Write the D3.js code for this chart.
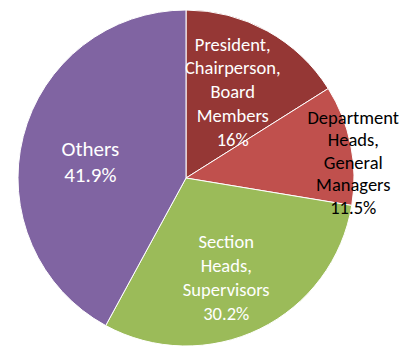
<!DOCTYPE html>
<html>
<head>
<meta charset="utf-8">
<script src="https://cdn.jsdelivr.net/npm/d3@7"></script>
<style>
  html, body { margin: 0; padding: 0; background: #fff; }
  svg { display: block; }
</style>
</head>
<body>
<svg id="chart" width="399" height="348"></svg>
<script>
const categories = [
  ["President,", "Chairperson,", "Board", "Members"],
  ["Department", "Heads,", "General", "Managers"],
  ["Section", "Heads,", "Supervisors"],
  ["Others"]
];
const values = [16, 11.5, 30.2, 41.9];
const percentLabels = ["16%", "11.5%", "30.2%", "41.9%"];
const colors = ["#953735", "#C0504D", "#9BBB59", "#8064A2"];
const labelColors = ["#ffffff", "#000000", "#ffffff", "#ffffff"];

const svg = d3.select("#chart");
const cx = 186, cy = 178, r = 168;
const g = svg.append("g").attr("transform", `translate(${cx},${cy})`);

const pie = d3.pie().sort(null).value(d => d);
const arcs = pie(values);
const arc = d3.arc().innerRadius(0).outerRadius(r);

g.selectAll("path.slice")
  .data(arcs)
  .enter().append("path")
  .attr("class", "slice")
  .attr("d", arc)
  .attr("fill", (d, i) => colors[i])
  .attr("stroke", "#ffffff")
  .attr("stroke-width", 1);

const labelArc = d3.arc().innerRadius(r * 0.6).outerRadius(r * 0.6);
const fontFamily = "Carlito, Calibri, Lato, 'Open Sans', sans-serif";

arcs.forEach((d, i) => {
  let [x, y] = labelArc.centroid(d);
  let size = 18.5, lineH = 23.8;
  if (i === 0) { x += -2; y += 2; }
  if (i === 1) {
    const a = (d.startAngle + d.endAngle) / 2 + 6 * Math.PI / 180;
    x = Math.sin(a) * r; y = -Math.cos(a) * r; lineH = 22.6;
  }
  if (i === 2) { x += -4; y += 9; }
  if (i === 3) { x += 2; y += 9; size = 21; lineH = 26; }
  const lines = categories[i].concat([percentLabels[i]]);
  const n = lines.length;
  const t = g.append("text")
    .attr("text-anchor", "middle")
    .attr("fill", labelColors[i])
    .style("font-family", fontFamily)
    .style("font-size", size + "px");
  lines.forEach((ln, k) => {
    t.append("tspan")
      .attr("x", x)
      .attr("y", y + (k - (n - 1) / 2) * lineH)
      .attr("dominant-baseline", "central")
      .text(ln);
  });
});
</script>
</body>
</html>
